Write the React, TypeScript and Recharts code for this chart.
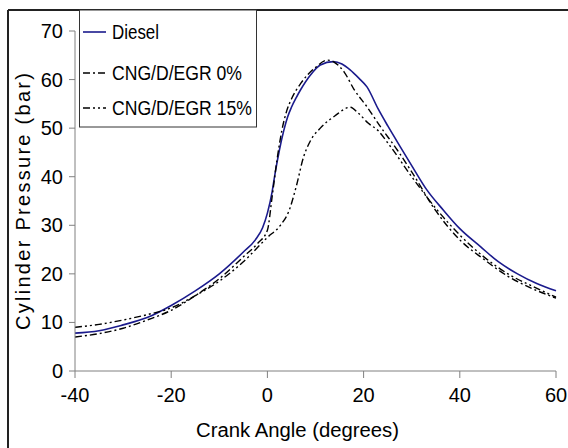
import React from 'react';
import { LineChart, Line, XAxis, YAxis } from 'recharts';

// crank angle (deg) / cylinder pressure (bar)
const dieselAngle = [-40, -35, -30, -25, -20, -15, -10, -5, -2.5, -1, 0, 1, 1.6, 2.5, 3.4, 4.2, 5, 6, 6.9, 9, 11, 13.7, 15.5, 17.2, 19, 20.7, 23, 25, 27.6, 30, 33, 36.6, 40, 44.3, 48, 52, 56, 60];
const dieselP = [7.8, 8.3, 9.5, 11, 13.5, 16.5, 20, 24.5, 27, 29.5, 32.5, 37, 40.7, 45.5, 49.5, 52.3, 54.3, 56.3, 57.9, 61, 63, 63.7, 63.2, 62, 60.3, 58.5, 54, 50.5, 46.2, 42.3, 37.5, 33.1, 29.3, 25.6, 22.5, 20, 18, 16.5];

const egr0Angle = [-40, -35, -30, -25, -20, -15, -10, -5, -2, 0, 1, 2, 3, 4, 5, 7, 10, 12.5, 14, 16, 18, 20.7, 23.5, 27, 30, 35, 40, 45, 50, 55, 60];
const egr0P = [7, 7.7, 8.8, 10.5, 12.5, 15.5, 19, 23.5, 26.3, 29, 36, 43.5, 49.5, 53.5, 56, 59.3, 62.5, 64, 63.5, 61.5, 58, 54.4, 50.3, 45.5, 41, 33, 27, 23, 19.5, 17, 15];

const egr15Angle = [-40, -35, -30, -25, -20, -15, -10, -5, 0, 2.7, 4.5, 6, 7.5, 9, 11, 14, 17.2, 19, 21, 23, 25, 30, 35, 40, 45, 50, 55, 60];
const egr15P = [9, 9.6, 10.5, 11.6, 13, 15.5, 18.5, 22.5, 27.5, 30, 33, 38, 44, 47.5, 50, 52.5, 54.3, 53, 51, 49.5, 47, 40, 33.5, 28, 23.5, 20, 17.5, 15.2];

const xTicks = [-40, -20, 0, 20, 40, 60];
const yTicks = [0, 10, 20, 30, 40, 50, 60, 70];

const toPoints = (a: number[], p: number[]) => a.map((x, i) => ({ x, y: p[i] }));

const font = '"Liberation Sans", Arial, sans-serif';

const XTick = (props: any) => {
  const { x, y, payload } = props;
  return (
    <text x={x} y={y + 22} textAnchor="middle" fontFamily={font} fontSize={20} fill="#000">
      {payload.value}
    </text>
  );
};

const YTick = (props: any) => {
  const { x, y, payload } = props;
  return (
    <text x={x - 4} y={y + 7} textAnchor="end" fontFamily={font} fontSize={20} fill="#000">
      {payload.value}
    </text>
  );
};

const App = () => {
  return (
    <div style={{ position: 'absolute', left: 0, top: 0, width: 568, height: 448, background: '#fff' }}>
      <LineChart width={568} height={448} margin={{ top: 31, right: 12, bottom: 37, left: 0 }}>
        <XAxis
          type="number"
          dataKey="x"
          domain={[-40, 60]}
          ticks={xTicks}
          height={40}
          allowDuplicatedCategory={false}
          stroke="#808080"
          tickSize={7}
          tick={<XTick />}
        />
        <YAxis
          type="number"
          dataKey="y"
          domain={[0, 70]}
          ticks={yTicks}
          width={75}
          stroke="#808080"
          tickSize={6}
          tick={<YTick />}
        />
        <Line data={toPoints(dieselAngle, dieselP)} dataKey="y" type="monotone" stroke="#1a1a8c" strokeWidth={1.6} dot={false} isAnimationActive={false} />
        <Line data={toPoints(egr0Angle, egr0P)} dataKey="y" type="monotone" stroke="#000" strokeWidth={1.4} strokeDasharray="7 3 2 3" dot={false} isAnimationActive={false} />
        <Line data={toPoints(egr15Angle, egr15P)} dataKey="y" type="monotone" stroke="#000" strokeWidth={1.4} strokeDasharray="7 3 2 3 2 3" dot={false} isAnimationActive={false} />
      </LineChart>
      <svg width={568} height={448} style={{ position: 'absolute', left: 0, top: 0, pointerEvents: 'none' }}>
        <line x1={8} y1={10} x2={568} y2={10} stroke="#222" strokeWidth={2} />
        <line x1={8} y1={10} x2={8} y2={448} stroke="#222" strokeWidth={2} />
        <rect x={79.5} y={10} width={177} height={117} fill="#fff" stroke="#333" strokeWidth={1} />
        <line x1={83} y1={32} x2={106} y2={32} stroke="#1a1a8c" strokeWidth={1.6} />
        <line x1={83} y1={73} x2={106} y2={73} stroke="#000" strokeWidth={1.4} strokeDasharray="7 3 2 3" />
        <line x1={83} y1={108} x2={106} y2={108} stroke="#000" strokeWidth={1.4} strokeDasharray="7 3 2 3 2 3" />
        <g fontFamily={font} fontSize={20} fill="#000">
          <text x={112} y={39} textLength={47} lengthAdjust="spacingAndGlyphs">Diesel</text>
          <text x={112} y={80} textLength={130} lengthAdjust="spacingAndGlyphs">CNG/D/EGR 0%</text>
          <text x={112} y={115} textLength={140} lengthAdjust="spacingAndGlyphs">CNG/D/EGR 15%</text>
          <text x={196} y={437} textLength={203} lengthAdjust="spacingAndGlyphs">Crank Angle (degrees)</text>
          <text x={0} y={0} transform="translate(30,330) rotate(-90)" textLength={257} lengthAdjust="spacing">Cylinder Pressure (bar)</text>
        </g>
      </svg>
    </div>
  );
};

export default App;
